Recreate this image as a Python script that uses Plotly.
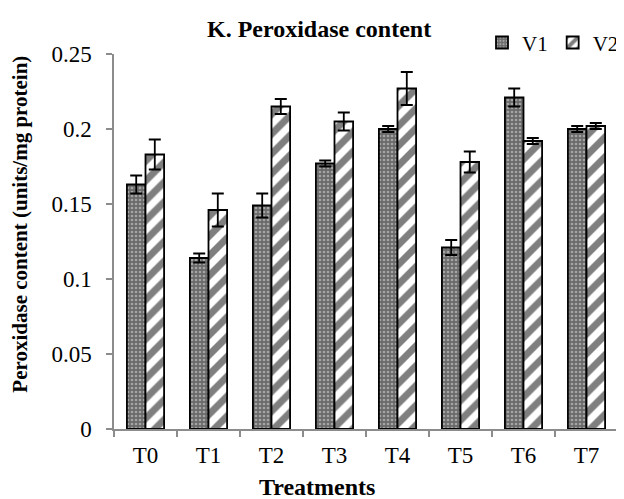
import plotly.graph_objects as go

# data
treatments = ["T0", "T1", "T2", "T3", "T4", "T5", "T6", "T7"]
v1_values = [0.163, 0.114, 0.149, 0.177, 0.200, 0.121, 0.221, 0.200]
v1_errors = [0.006, 0.003, 0.008, 0.002, 0.002, 0.005, 0.006, 0.002]
v2_values = [0.183, 0.146, 0.215, 0.205, 0.227, 0.178, 0.192, 0.202]
v2_errors = [0.010, 0.011, 0.005, 0.006, 0.011, 0.007, 0.002, 0.002]

FONT = "Liberation Serif, Times New Roman, serif"
AXIS_GRAY = "#8c8c8c"

fig = go.Figure()

fig.add_trace(go.Bar(
    x=treatments, y=v1_values, name="V1",
    marker=dict(
        color="#7a7a7a",
        line=dict(color="black", width=1.8),
        pattern=dict(shape=".", fgcolor="#e0e0e0", bgcolor="#6a6a6a", size=4, solidity=0.35),
    ),
    error_y=dict(type="data", array=v1_errors, visible=True, color="black", thickness=1.8, width=6),
))

fig.add_trace(go.Bar(
    x=treatments, y=v2_values, name="V2",
    marker=dict(
        color="white",
        line=dict(color="black", width=1.8),
        pattern=dict(shape="/", fgcolor="black", bgcolor="white", size=14, solidity=0.5),
    ),
    error_y=dict(type="data", array=v2_errors, visible=True, color="black", thickness=1.8, width=6),
))

# page body adds an 8px margin, so the figure is a bit smaller than the window
fig.update_layout(
    width=616, height=491,
    margin=dict(l=106, r=6, t=46, b=70, autoexpand=False),
    paper_bgcolor="white", plot_bgcolor="white",
    font=dict(family=FONT, color="black", size=22),
    barmode="group", bargap=0.41, bargroupgap=0,
    title=dict(text="<b>K. Peroxidase content</b>", x=0.505, xanchor="center",
               y=0.958, yanchor="middle", font=dict(size=24)),
    legend=dict(orientation="h", xref="container", yref="container",
                x=1.0, xanchor="right", y=0.929, yanchor="middle",
                font=dict(size=21), itemwidth=30, tracegroupgap=0,
                bgcolor="rgba(0,0,0,0)"),
    showlegend=True,
)

# axis titles are centred on the chart area, not the plot area (Excel style)
fig.add_annotation(text="<b>Peroxidase content (units/mg protein)</b>", textangle=-90,
                   xref="paper", yref="paper", x=-0.1865, y=0.545,
                   xanchor="center", yanchor="middle", showarrow=False,
                   font=dict(size=21))
fig.add_annotation(text="<b>Treatments</b>",
                   xref="paper", yref="paper", x=0.402, y=-0.155,
                   xanchor="center", yanchor="middle", showarrow=False,
                   font=dict(size=24))

fig.update_xaxes(
    showline=True, linecolor=AXIS_GRAY, linewidth=1.5,
    ticks="outside", tickson="boundaries", ticklen=6, tickcolor=AXIS_GRAY, tickwidth=1.5,
    tickfont=dict(size=23), ticklabelstandoff=5, showgrid=False, automargin=False,
)

fig.update_yaxes(
    range=[0, 0.25], dtick=0.05, tickformat="~g",
    showline=True, linecolor=AXIS_GRAY, linewidth=1.5,
    ticks="outside", ticklen=6, tickcolor=AXIS_GRAY, tickwidth=1.5,
    tickfont=dict(size=23), ticklabelstandoff=10, showgrid=False, zeroline=False,
    automargin=False,
)

fig.write_html("out.html")
